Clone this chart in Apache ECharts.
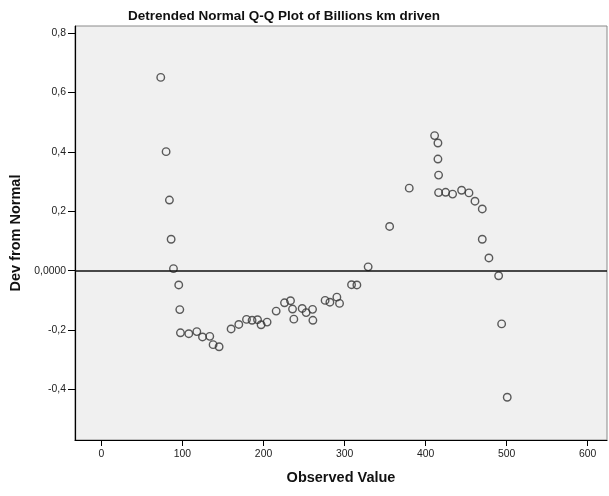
<!DOCTYPE html>
<html>
<head>
<meta charset="utf-8">
<script src="https://cdn.jsdelivr.net/npm/echarts@6/dist/echarts.min.js"></script>
<style>
html,body{margin:0;padding:0;background:#fff;}
#chart{width:609px;height:496px;}
</style>
</head>
<body>
<div id="chart"></div>
<script>
var chartTitle = 'Detrended Normal Q-Q Plot of Billions km driven';
var xAxisTitle = 'Observed Value';
var yAxisTitle = 'Dev from Normal';

var observed = [73.2, 79.8, 83.9, 86.0, 88.9, 95.4, 96.7, 97.5, 107.8, 117.7,
  124.7, 133.7, 137.8, 145.2, 160.0, 169.5, 179.0, 185.9, 192.6, 197.0,
  204.4, 215.6, 225.9, 233.3, 235.8, 237.4, 247.7, 252.6, 260.5, 260.9,
  276.0, 281.9, 290.5, 293.8, 308.6, 315.2, 329.1, 355.6, 379.8, 411.1,
  415.2, 415.2, 416.0, 416.0, 424.7, 433.3, 444.4, 453.5, 460.9, 469.9,
  469.9, 478.1, 490.1, 493.8, 500.7];
var deviation = [0.651, 0.401, 0.238, 0.106, 0.007, -0.048, -0.131, -0.209, -0.212, -0.205,
  -0.223, -0.221, -0.249, -0.256, -0.196, -0.181, -0.164, -0.167, -0.165, -0.182,
  -0.173, -0.136, -0.108, -0.101, -0.129, -0.163, -0.127, -0.141, -0.130, -0.167,
  -0.100, -0.106, -0.089, -0.110, -0.047, -0.048, 0.013, 0.149, 0.278, 0.455,
  0.430, 0.376, 0.322, 0.263, 0.264, 0.258, 0.271, 0.262, 0.234, 0.208,
  0.106, 0.043, -0.017, -0.179, -0.426];

var xTickValues = [0, 100, 200, 300, 400, 500, 600];
var xTickLabels = ['0', '100', '200', '300', '400', '500', '600'];
var yTickValues = [-0.4, -0.2, 0, 0.2, 0.4, 0.6, 0.8];
var yTickLabels = ['-0,4', '-0,2', '0,0000', '0,2', '0,4', '0,6', '0,8'];

var points = observed.map(function (x, i) { return [x, deviation[i]]; });

function lookup(values, labels, v) {
  for (var i = 0; i < values.length; i++) {
    if (Math.abs(values[i] - v) < 1e-6) return labels[i];
  }
  return '';
}

var font = 'Liberation Sans, Arial, sans-serif';
var chart = echarts.init(document.getElementById('chart'), null, {renderer: 'canvas'});
chart.setOption({
  animation: false,
  backgroundColor: '#ffffff',
  title: {
    text: chartTitle,
    left: 123,
    top: 4,
    textStyle: {fontFamily: font, fontSize: 13.5, fontWeight: 'bold', color: '#111'}
  },
  grid: {
    left: 75, top: 26, right: 2, bottom: 56,
    show: true, backgroundColor: '#f0f0f0', borderColor: '#8a8a8a', borderWidth: 1,
    containLabel: false
  },
  xAxis: {
    type: 'value',
    min: -32.6, max: 623.8,
    name: xAxisTitle,
    nameLocation: 'middle',
    nameGap: 30,
    nameTextStyle: {fontFamily: font, fontSize: 14.5, fontWeight: 'bold', color: '#111'},
    axisLine: {show: true, onZero: false, lineStyle: {color: '#000', width: 1.2}},
    axisTick: {show: true, length: 6, customValues: xTickValues, lineStyle: {color: '#000'}},
    axisLabel: {
      customValues: xTickValues, margin: 9,
      fontFamily: font, fontSize: 10.4, color: '#222',
      formatter: function (v) { return lookup(xTickValues, xTickLabels, v); }
    },
    splitLine: {show: false}
  },
  yAxis: {
    type: 'value',
    min: -0.570, max: 0.824,
    name: yAxisTitle,
    nameLocation: 'middle',
    nameGap: 45,
    nameTextStyle: {fontFamily: font, fontSize: 14.5, fontWeight: 'bold', color: '#111'},
    axisLine: {show: true, onZero: false, lineStyle: {color: '#000', width: 1.2}},
    axisTick: {show: true, length: 7, customValues: yTickValues, lineStyle: {color: '#000'}},
    axisLabel: {
      customValues: yTickValues, margin: 9,
      fontFamily: font, fontSize: 10.4, color: '#222',
      formatter: function (v) { return lookup(yTickValues, yTickLabels, v); }
    },
    splitLine: {show: false}
  },
  series: [{
    type: 'scatter',
    data: points,
    symbol: 'circle',
    symbolSize: 7.5,
    itemStyle: {color: 'rgba(0,0,0,0)', borderColor: '#333', borderWidth: 1.4},
    markLine: {
      silent: true,
      symbol: ['none', 'none'],
      label: {show: false},
      lineStyle: {color: '#111', width: 1.5, type: 'solid'},
      data: [{yAxis: 0}]
    },
    z: 3
  }]
});
</script>
</body>
</html>
